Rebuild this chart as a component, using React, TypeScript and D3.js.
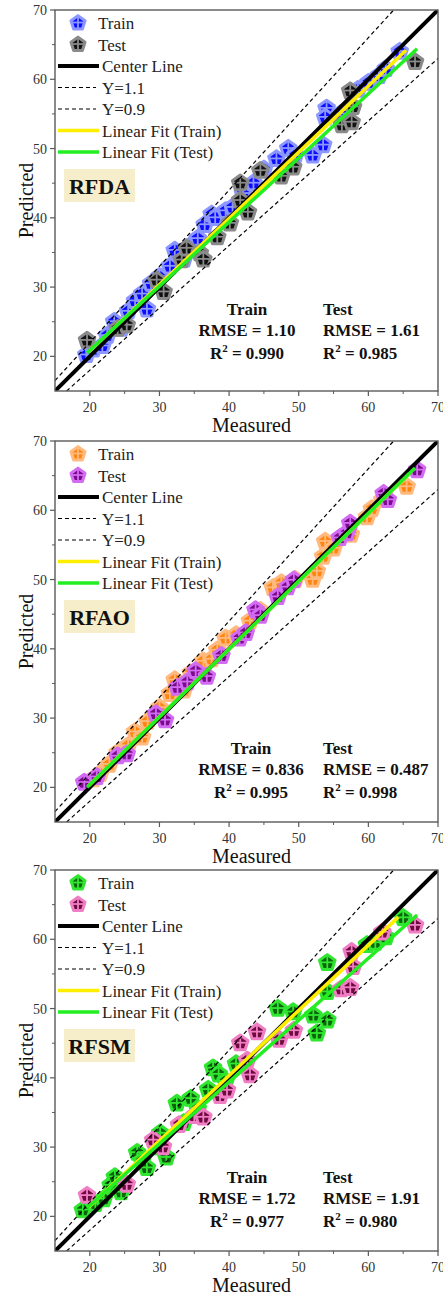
import React from 'react';
import * as d3 from 'd3';

const W = 443;
const H = 1297;

// axis setup (shared by all three panels)
const axisDomain = [15, 70];
const majorTicks = [20, 30, 40, 50, 60, 70];
const minorTicks = [25, 35, 45, 55, 65];

const legendLabels = ['Train', 'Test', 'Center Line', 'Y=1.1', 'Y=0.9', 'Linear Fit (Train)', 'Linear Fit (Test)'];

// [measured, predicted]
const rfdaTrain = [
  [19.5, 20.2], [20.5, 21.0], [21.8, 21.5], [22.5, 23.0], [23.5, 25.0], [24.5, 24.0], [25.5, 26.5],
  [26.5, 28.0], [27.5, 29.0], [28.2, 26.8], [28.8, 30.5], [30.0, 31.5], [31.5, 33.0], [32.2, 35.3],
  [33.5, 34.0], [34.5, 36.0], [35.5, 37.0], [36.5, 39.0], [37.5, 40.5], [38.0, 40.0], [39.5, 41.0],
  [40.5, 41.5], [42.0, 43.5], [43.5, 45.0], [45.0, 47.0], [46.8, 48.5], [48.5, 50.0], [49.5, 49.0],
  [52.0, 49.0], [53.5, 50.5], [54.0, 55.8], [53.8, 54.5], [56.0, 55.0], [58.5, 58.5], [60.0, 59.5],
  [61.5, 60.5], [62.5, 61.5], [64.5, 64.0],
];
const rfdaTest = [
  [19.6, 22.3], [24.0, 24.0], [25.3, 24.5], [29.6, 31.0], [30.6, 29.3], [33.2, 33.9], [33.9, 35.6],
  [35.8, 34.9], [36.3, 34.0], [38.3, 37.2], [40.1, 39.2], [41.6, 42.5], [42.7, 40.8], [41.6, 45.0],
  [44.5, 46.8], [47.5, 46.0], [49.2, 47.3], [56.2, 53.4], [57.6, 53.8], [57.8, 56.0], [57.4, 58.3],
  [66.7, 62.5],
];
const rfaoTrain = [
  [20.5, 21.2], [21.5, 22.0], [22.8, 23.3], [24.0, 25.0], [25.5, 26.0], [26.5, 28.0], [27.5, 27.2],
  [28.3, 29.5], [30.0, 31.5], [31.5, 33.5], [32.2, 35.5], [33.5, 34.0], [34.5, 36.5], [36.3, 38.2],
  [37.5, 38.5], [38.3, 39.8], [39.5, 41.5], [41.0, 42.0], [43.0, 44.0], [44.5, 45.5], [46.3, 48.8],
  [47.5, 49.5], [49.5, 50.0], [52.0, 50.0], [52.6, 51.2], [53.5, 53.3], [53.8, 55.5], [55.0, 54.5],
  [57.5, 56.5], [59.8, 59.0], [60.5, 60.2], [62.0, 61.5], [65.5, 63.4],
];
const rfaoTest = [
  [19.2, 20.7], [21.0, 21.5], [24.0, 24.5], [25.3, 24.8], [29.5, 30.6], [30.8, 29.7], [32.6, 34.4],
  [34.0, 35.2], [35.2, 36.8], [36.8, 36.0], [38.9, 39.0], [41.5, 41.5], [42.4, 42.3], [43.8, 45.6],
  [44.5, 44.8], [47.0, 47.5], [48.4, 48.9], [49.3, 49.9], [55.9, 56.0], [56.9, 56.7], [57.4, 58.1],
  [62.2, 62.4], [62.8, 61.5], [67.0, 65.8],
];
const rfsmTrain = [
  [19.0, 20.9], [20.8, 21.8], [22.0, 22.5], [23.0, 24.5], [23.6, 25.7], [24.5, 23.5], [26.8, 29.2],
  [27.5, 28.0], [28.2, 27.0], [29.5, 30.0], [30.1, 32.0], [31.0, 28.5], [32.5, 36.3], [33.5, 33.5],
  [34.5, 37.0], [35.5, 35.5], [37.0, 38.3], [37.7, 41.4], [38.5, 40.5], [39.5, 39.5], [41.0, 42.0],
  [47.0, 50.0], [49.2, 49.5], [52.1, 49.0], [54.1, 48.3], [52.6, 46.4], [54.1, 52.4], [54.1, 56.6],
  [59.8, 59.2], [61.0, 59.5], [62.5, 60.3], [65.0, 63.1],
];
const rfsmTest = [
  [19.6, 23.0], [25.3, 24.6], [29.1, 31.0], [30.5, 30.0], [32.8, 33.2], [35.0, 34.5], [36.3, 34.3],
  [38.7, 37.4], [39.7, 38.2], [41.6, 45.0], [42.6, 42.5], [43.0, 40.4], [44.0, 46.6], [47.2, 45.5],
  [49.3, 46.8], [56.1, 52.8], [57.4, 53.0], [57.8, 56.0], [57.6, 58.2], [62.0, 61.0], [66.7, 62.0],
];

// linear fits: [x0, y0, x1, y1] in data units
const rfdaFits = [[19.8, 20.6, 65.4, 64.2], [19.6, 20.5, 67.0, 64.4]];
const rfaoFits = [[19.8, 20.2, 65.9, 65.3], [19.6, 20.0, 66.7, 66.1]];
const rfsmFits = [[19.8, 21.3, 64.3, 63.2], [19.6, 21.2, 67.0, 63.5]];

const rfdaStats = { train: ['1.10', '0.990'], test: ['1.61', '0.985'] };
const rfaoStats = { train: ['0.836', '0.995'], test: ['0.487', '0.998'] };
const rfsmStats = { train: ['1.72', '0.977'], test: ['1.91', '0.980'] };

const panels = [
  { name: 'RFDA', top: 10, train: rfdaTrain, test: rfdaTest, fits: rfdaFits, stats: rfdaStats,
    colors: { trainFill: '#0c0cff', trainEdge: '#8c98ff', testFill: '#111111', testEdge: '#8a8a8a' }, statsY: -76, statsX: 247 },
  { name: 'RFAO', top: 441, train: rfaoTrain, test: rfaoTest, fits: rfaoFits, stats: rfaoStats,
    colors: { trainFill: '#ff8410', trainEdge: '#ffba80', testFill: '#7c0a8c', testEdge: '#d26cf2' }, statsY: -68, statsX: 251 },
  { name: 'RFSM', top: 870, train: rfsmTrain, test: rfsmTest, fits: rfsmFits, stats: rfsmStats,
    colors: { trainFill: '#0b640b', trainEdge: '#30e630', testFill: '#6e0a3e', testEdge: '#f07ec4' }, statsY: -68, statsX: 247 },
];

const left = 55;
const right = 438;
const plotH = 381;
const serif = '"Liberation Serif", "Times New Roman", serif';
const axisColor = '#5a5a5a';

function Marker({ x, y, fill, edge, r = 8.2 }) {
  const pts = d3.range(5).map(i => {
    const a = -Math.PI / 2 + (i * 2 * Math.PI) / 5;
    return [x + r * Math.cos(a), y + r * Math.sin(a)];
  });
  return (
    <g>
      <path d={d3.line()(pts) + 'Z'} fill={fill} stroke={edge} strokeWidth={3} strokeLinejoin="round" />
      <line x1={x - r * 0.95} x2={x + r * 0.95} y1={y - 0.5} y2={y - 0.5} stroke={edge} strokeWidth={1.8} />
      <line x1={x} x2={x} y1={y - r} y2={y + r * 0.8} stroke={edge} strokeWidth={1.8} />
    </g>
  );
}

function Panel({ p }) {
  const top = p.top;
  const bottom = top + plotH;
  const x = d3.scaleLinear().domain(axisDomain).range([left, right]);
  const y = d3.scaleLinear().domain(axisDomain).range([bottom, top]);
  const line = d3.line().x(d => x(d[0])).y(d => y(d[1]));

  const center = [[15, 15], [70, 70]];
  const upper = [[15, 16.5], [70 / 1.1, 70]];
  const lower = [[15 / 0.9, 15], [70, 63]];
  const fitTrain = [[p.fits[0][0], p.fits[0][1]], [p.fits[0][2], p.fits[0][3]]];
  const fitTest = [[p.fits[1][0], p.fits[1][1]], [p.fits[1][2], p.fits[1][3]]];

  const lx0 = 58, lx1 = 99, ltx = 102;
  const rowY = i => top + 13 + i * 21.5;

  const sx = p.statsX;
  const tx = 323;
  const sy = bottom + p.statsY;

  return (
    <g>
      <defs>
        <clipPath id={'clip' + p.name}>
          <rect x={left} y={top} width={right - left} height={plotH} />
        </clipPath>
      </defs>
      <g clipPath={`url(#clip${p.name})`}>
        {p.train.map((d, i) => (
          <Marker key={'a' + i} x={x(d[0])} y={y(d[1])} fill={p.colors.trainFill} edge={p.colors.trainEdge} />
        ))}
        {p.test.map((d, i) => (
          <Marker key={'b' + i} x={x(d[0])} y={y(d[1])} fill={p.colors.testFill} edge={p.colors.testEdge} />
        ))}
        <path d={line(upper)} stroke="#000" strokeWidth={1.2} strokeDasharray="4,3" fill="none" />
        <path d={line(lower)} stroke="#000" strokeWidth={1.2} strokeDasharray="4,3" fill="none" />
        <path d={line(center)} stroke="#000" strokeWidth={4} fill="none" />
        <path d={line(fitTrain)} stroke="#ffee00" strokeWidth={3.5} fill="none" />
        <path d={line(fitTest)} stroke="#22ee22" strokeWidth={3.5} fill="none" />
      </g>

      {/* frame */}
      <rect x={left} y={top} width={right - left} height={plotH} fill="none" stroke={axisColor} strokeWidth={1.4} />
      {majorTicks.map(t => (
        <g key={'x' + t}>
          <line x1={x(t)} x2={x(t)} y1={bottom} y2={bottom + 5} stroke={axisColor} strokeWidth={1.2} />
          <text x={x(t)} y={bottom + 21} textAnchor="middle" fontSize={14} fontFamily={serif} fill="#333">{t}</text>
          <line x1={left - 5} x2={left} y1={y(t)} y2={y(t)} stroke={axisColor} strokeWidth={1.2} />
          <text x={left - 8} y={y(t) + 5} textAnchor="end" fontSize={14} fontFamily={serif} fill="#333">{t}</text>
        </g>
      ))}
      {minorTicks.map(t => (
        <g key={'m' + t}>
          <line x1={x(t)} x2={x(t)} y1={bottom} y2={bottom + 3} stroke={axisColor} strokeWidth={1} />
          <line x1={left - 3} x2={left} y1={y(t)} y2={y(t)} stroke={axisColor} strokeWidth={1} />
        </g>
      ))}
      <text x={(left + right) / 2 + 5} y={bottom + 41} textAnchor="middle" fontSize={20} fontFamily={serif} fill="#111">Measured</text>
      <text transform={`translate(33,${(top + bottom) / 2}) rotate(-90)`} textAnchor="middle" fontSize={20} fontFamily={serif} fill="#111">Predicted</text>

      {/* legend */}
      <Marker x={78} y={rowY(0)} fill={p.colors.trainFill} edge={p.colors.trainEdge} r={7.4} />
      <Marker x={78} y={rowY(1)} fill={p.colors.testFill} edge={p.colors.testEdge} r={7.4} />
      <line x1={lx0} x2={lx1} y1={rowY(2)} y2={rowY(2)} stroke="#000" strokeWidth={4} />
      <line x1={lx0} x2={lx1 - 3} y1={rowY(3)} y2={rowY(3)} stroke="#000" strokeWidth={1.2} strokeDasharray="4,3" />
      <line x1={lx0} x2={lx1 - 3} y1={rowY(4)} y2={rowY(4)} stroke="#000" strokeWidth={1.2} strokeDasharray="4,3" />
      <line x1={lx0} x2={lx1} y1={rowY(5)} y2={rowY(5)} stroke="#ffee00" strokeWidth={3.5} />
      <line x1={lx0} x2={lx1} y1={rowY(6)} y2={rowY(6)} stroke="#22ee22" strokeWidth={3.5} />
      {legendLabels.map((l, i) => (
        <text key={l} x={i < 2 ? 98 : ltx} y={rowY(i) + 6} fontSize={17} fontFamily={serif} fill="#222">{l}</text>
      ))}

      {/* model label */}
      <rect x={64} y={top + 159} width={71} height={33} fill="#f6eecb" />
      <text x={99.5} y={top + 184} textAnchor="middle" fontSize={22} fontWeight="bold" fontFamily={serif} fill="#111">{p.name}</text>

      {/* statistics */}
      <g fontSize={17} fontWeight="bold" fontFamily={serif} fill="#111">
        <text x={sx} y={sy} textAnchor="middle">Train</text>
        <text x={sx} y={sy + 21} textAnchor="middle">RMSE = {p.stats.train[0]}</text>
        <text x={sx} y={sy + 44} textAnchor="middle">
          R<tspan dy={-7} fontSize={11}>2</tspan><tspan dy={7}> = {p.stats.train[1]}</tspan>
        </text>
        <text x={tx} y={sy}>Test</text>
        <text x={tx} y={sy + 21}>RMSE = {p.stats.test[0]}</text>
        <text x={tx} y={sy + 44}>
          R<tspan dy={-7} fontSize={11}>2</tspan><tspan dy={7}> = {p.stats.test[1]}</tspan>
        </text>
      </g>
    </g>
  );
}

export default function App() {
  return (
    <svg width={W} height={H} style={{ position: 'absolute', left: 0, top: 0, background: '#fff' }}>
      <rect width={W} height={H} fill="#fff" />
      {panels.map(p => <Panel key={p.name} p={p} />)}
    </svg>
  );
}
